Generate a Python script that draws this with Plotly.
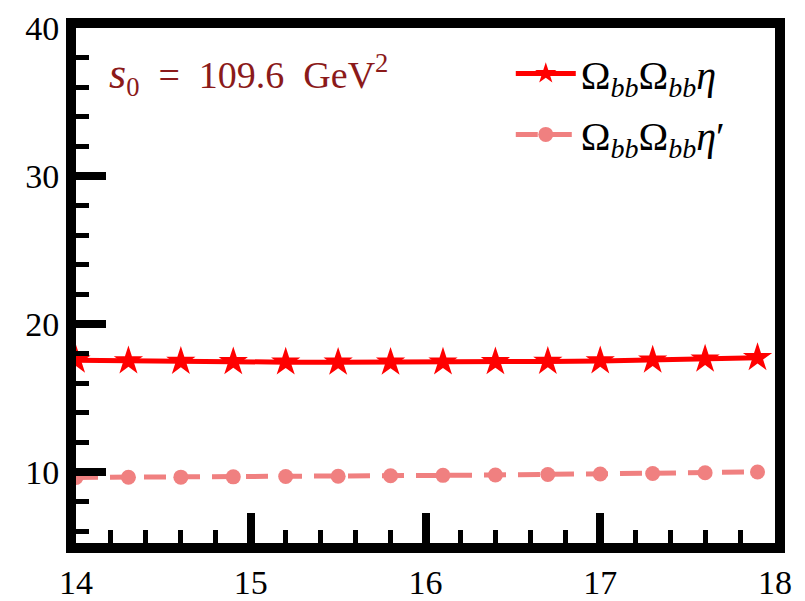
import plotly.graph_objects as go

x_vals = [14.0, 14.3, 14.6, 14.9, 15.2, 15.5, 15.8, 16.1, 16.4, 16.7, 17.0, 17.3, 17.6, 17.9]
eta_vals = [17.55, 17.5, 17.47, 17.44, 17.42, 17.41, 17.41, 17.42, 17.44, 17.47, 17.5, 17.55, 17.62, 17.72]
etap_vals = [9.63, 9.64, 9.65, 9.67, 9.69, 9.71, 9.74, 9.77, 9.8, 9.83, 9.86, 9.9, 9.95, 10.0]

x_ticks = [14, 15, 16, 17, 18]
y_ticks = [10, 20, 30, 40]

FONT = "Liberation Serif"

fig = go.Figure()
fig.add_trace(go.Scatter(
    x=x_vals, y=eta_vals, mode="lines+markers",
    name="Ω<sub><i>bb</i></sub>Ω<sub><i>bb</i></sub><i>η</i>",
    line=dict(color="#ff0000", width=5),
    marker=dict(symbol="star", size=22, color="#ff0000"),
    legendgroup="a",
))
fig.add_trace(go.Scatter(
    x=x_vals, y=etap_vals, mode="lines+markers",
    name="Ω<sub><i>bb</i></sub>Ω<sub><i>bb</i></sub><i>η</i>′",
    line=dict(color="#f08080", width=5, dash="22px,12px"),
    marker=dict(symbol="circle", size=15, color="#f08080"),
    legendgroup="b",
))

axis_common = dict(
    showline=True, linecolor="black", linewidth=10, mirror=True,
    showgrid=False, zeroline=False, automargin=False,
    ticks="inside", tickcolor="black",
    tickfont=dict(family=FONT, size=34, color="black"),
)

fig.update_xaxes(
    range=[14, 18], tickvals=x_ticks, ticklen=30, tickwidth=8,
    minor=dict(ticks="inside", dtick=0.2, ticklen=13, tickwidth=5, tickcolor="black"),
    **axis_common,
)
fig.update_yaxes(
    range=[5.2, 40], tickvals=y_ticks, ticklen=30, tickwidth=8,
    minor=dict(ticks="inside", dtick=2, ticklen=13, tickwidth=5, tickcolor="black"),
    **axis_common,
)

fig.add_annotation(
    x=0.045, y=0.909, xref="paper", yref="paper", xanchor="left", yanchor="middle",
    text="<span style='font-size:44px'><i>s</i></span><sub>0</sub>\u2002=\u2002109.6\u2002GeV<sup>2</sup>",
    showarrow=False,
    font=dict(family=FONT, size=38, color="#8b1a1a"),
)

fig.update_layout(
    template="none",
    width=797, height=593,
    margin=dict(l=68, r=30, t=20, b=58),
    paper_bgcolor="white", plot_bgcolor="white",
    legend=dict(
        x=0.622, y=0.975, xanchor="left", yanchor="top",
        font=dict(family=FONT, size=40, color="black"),
        bgcolor="rgba(0,0,0,0)", tracegroupgap=6, itemwidth=60,
    ),
)

fig.write_html("out.html")
